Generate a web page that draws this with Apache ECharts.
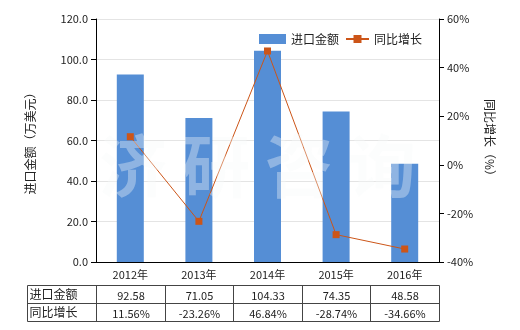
<!DOCTYPE html>
<html><head><meta charset="utf-8">
<script src="https://cdn.jsdelivr.net/npm/echarts@6/dist/echarts.min.js"></script>
<style>html,body{margin:0;padding:0;background:#fff}#c{width:520px;height:330px}</style>
</head><body><div id="c"></div>
<script>
var categories = ['2012年','2013年','2014年','2015年','2016年'];
var importValues = [92.58, 71.05, 104.33, 74.35, 48.58];
var growthValues = [11.56, -23.26, 46.84, -28.74, -34.66];
var importLabels = ['92.58','71.05','104.33','74.35','48.58'];
var growthLabels = ['11.56%','-23.26%','46.84%','-28.74%','-34.66%'];
var seriesNames = ['进口金额','同比增长'];
var watermarkChars = ['济','研','咨','询'];

var FONT = '"Noto Sans CJK SC", "DejaVu Sans", sans-serif';
var GL = 96, GR = 81, GT = 19, GB = 68;
var chart = echarts.init(document.getElementById('c'));
var legendText = {fontSize: 12, color: '#222', fontFamily: FONT};
var option = {
  animation: false,
  textStyle: {fontFamily: FONT},
  grid: {left: GL, right: GR, top: GT, bottom: GB},
  legend: [{
    left: 254, top: 28, itemWidth: 27, itemHeight: 10, itemGap: 0,
    textStyle: legendText,
    data: [{name: seriesNames[0], icon: 'rect'}]
  }, {
    left: 340, top: 28, itemWidth: 23, itemHeight: 10, itemGap: 0,
    textStyle: legendText,
    data: [{name: seriesNames[1]}]
  }],
  xAxis: {
    type: 'category', data: categories,
    axisLine: {lineStyle: {color: '#000'}},
    axisTick: {alignWithLabel: true, lineStyle: {color: '#000'}},
    axisLabel: {color: '#222', fontSize: 11, margin: 7, fontFamily: FONT}
  },
  yAxis: [{
    type: 'value', min: 0, max: 120, interval: 20,
    name: '进口金额（万美元）', nameLocation: 'middle', nameGap: 60, nameRotate: 90,
    nameTextStyle: {fontSize: 12, color: '#222', fontFamily: FONT},
    axisLine: {show: true, lineStyle: {color: '#000'}},
    axisTick: {show: true, lineStyle: {color: '#000'}},
    axisLabel: {color: '#222', fontSize: 11, formatter: function(v){return v.toFixed(1);}, fontFamily: FONT},
    splitLine: {lineStyle: {color: '#e4e4e4'}}
  }, {
    type: 'value', min: -40, max: 60, interval: 20, position: 'right',
    name: '同比增长（%）', nameLocation: 'middle', nameGap: 44, nameRotate: -90,
    nameTextStyle: {fontSize: 12, color: '#222', fontFamily: FONT},
    axisLine: {show: true, lineStyle: {color: '#000'}},
    axisTick: {show: true, lineStyle: {color: '#000'}},
    axisLabel: {color: '#222', fontSize: 11, formatter: '{value}%', fontFamily: FONT},
    splitLine: {show: false}
  }],
  series: [{
    name: seriesNames[0], type: 'bar', data: importValues, barWidth: 27,
    itemStyle: {color: '#558ed5'}
  }, {
    name: seriesNames[1], type: 'line', yAxisIndex: 1, data: growthValues,
    symbol: 'rect', symbolSize: 7,
    lineStyle: {color: '#cc5518', width: 1},
    itemStyle: {color: '#cc5518'}
  }]
};
chart.setOption(option);

// table + watermark
var g = [];
var tTop = 285, tMid = 303, tBot = 321, tLeft = 27;
var band = chart.convertToPixel({xAxisIndex:0}, categories[1]) - chart.convertToPixel({xAxisIndex:0}, categories[0]);
var edges = [tLeft];
for (var i = 0; i <= categories.length; i++) {
  var px = i < categories.length
    ? chart.convertToPixel({xAxisIndex: 0}, categories[i]) - band / 2
    : 520 - GR;
  edges.push(Math.round(px) + 0.5);
}
var x0 = edges[0] + 0.5, x1 = edges[edges.length-1];
var lc = '#444';
[tTop, tMid, tBot].forEach(function(y){
  g.push({type:'line', shape:{x1:x0, y1:y+0.5, x2:x1, y2:y+0.5}, style:{stroke:lc, lineWidth:1}, z:10});
});
edges.forEach(function(x, k){
  var xx = k === 0 ? x0 : x;
  g.push({type:'line', shape:{x1:xx, y1:tTop+0.5, x2:xx, y2:tBot+0.5}, style:{stroke:lc, lineWidth:1}, z:10});
});
var rows = [[seriesNames[0], importLabels],[seriesNames[1], growthLabels]];
rows.forEach(function(r, ri){
  var yc = ri === 0 ? (tTop+tMid)/2 : (tMid+tBot)/2;
  g.push({type:'text', x: x0 + 2, y: yc, style:{text:r[0], fill:'#222', font:'12px '+FONT, textAlign:'left', textVerticalAlign:'middle'}, z:10});
  r[1].forEach(function(t, ci){
    var cx = (edges[ci+1] + edges[ci+2]) / 2;
    g.push({type:'text', x: cx, y: yc + 2, style:{text:t, fill:'#222', font:'11px '+FONT, textAlign:'center', textVerticalAlign:'middle'}, z:10});
  });
});
watermarkChars.forEach(function(ch, k){
  g.push({type:'text', x: 133 + k*83, y: 166, style:{text:ch, fill:'rgba(246,250,250,0.36)', font:'bold 68px '+FONT, textAlign:'center', textVerticalAlign:'middle'}, z:100});
});
chart.setOption({graphic: g});
</script></body></html>
